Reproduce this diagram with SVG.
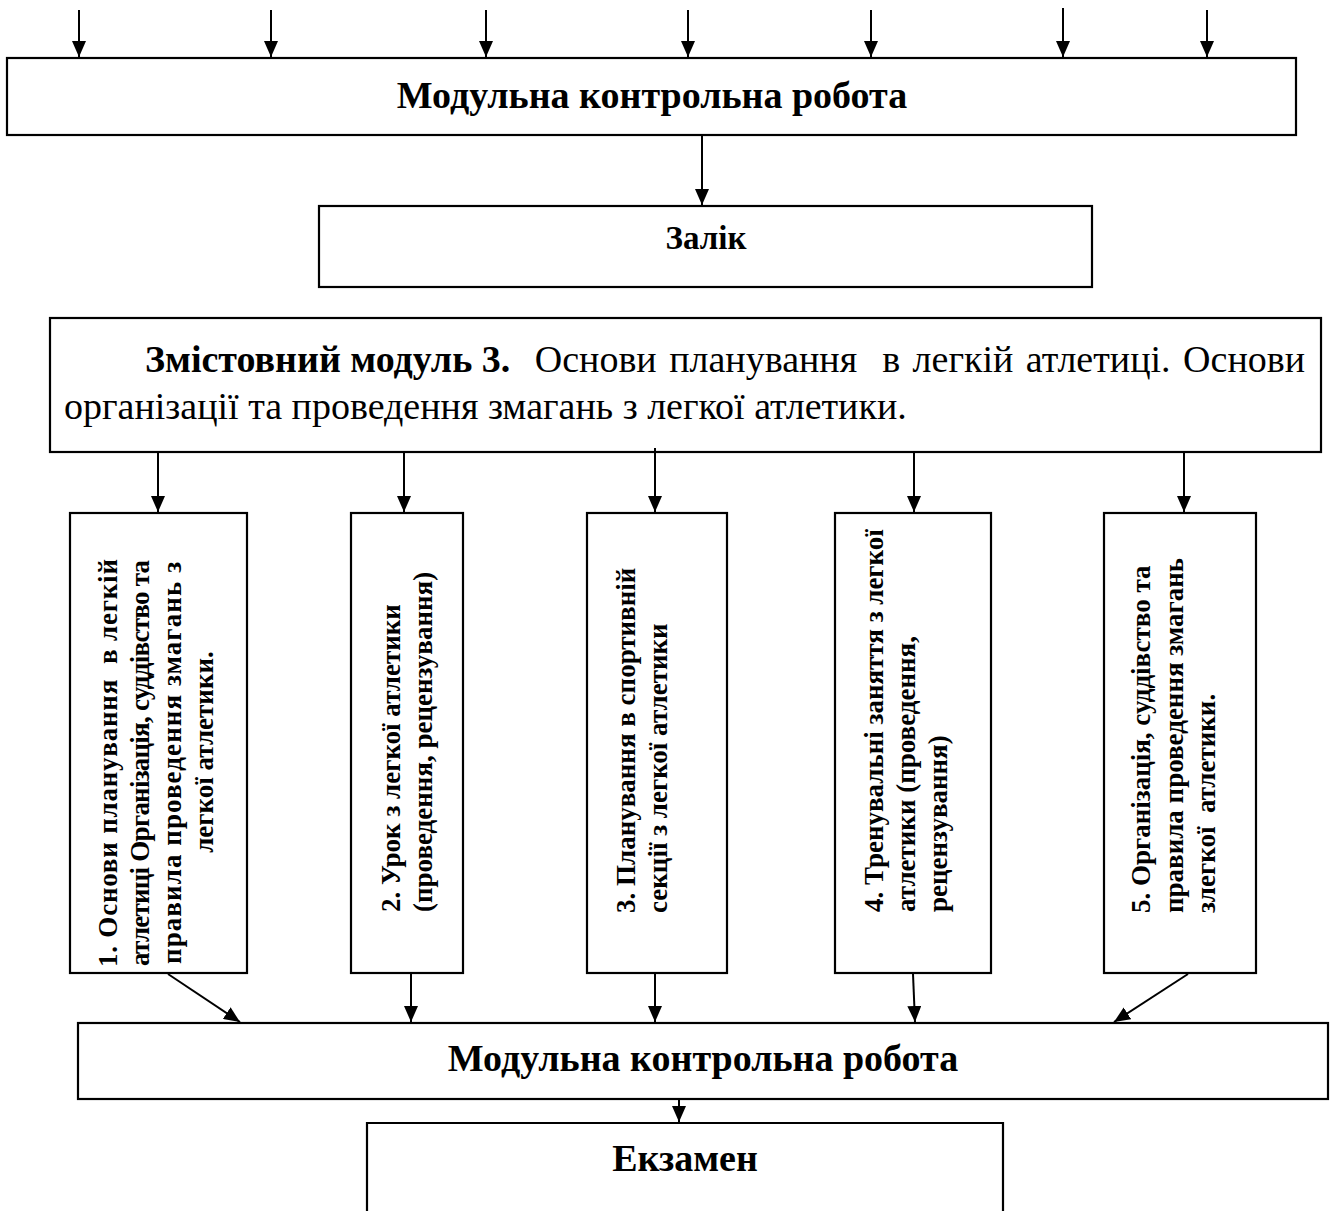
<svg xmlns="http://www.w3.org/2000/svg" width="1330" height="1211" viewBox="0 0 1330 1211">
<defs>
<marker id="ah" markerUnits="userSpaceOnUse" markerWidth="16" markerHeight="14" refX="16" refY="7" orient="auto">
<path d="M0,0 L16,7 L0,14 z" fill="#000"/>
</marker>
<style>
.box{fill:#fff;stroke:#000;stroke-width:2.2}
.con{stroke:#000;stroke-width:2;fill:none;marker-end:url(#ah)}
.t{font-family:"Liberation Serif","Times New Roman",serif;fill:#000}
.b{font-weight:bold}
.big{font-size:38px}
.vt{font-family:"Liberation Serif","Times New Roman",serif;font-size:27px;font-weight:bold;fill:#000}
</style>
</defs>
<rect x="0" y="0" width="1330" height="1211" fill="#fff"/>

<g id="mkr1">
<rect class="box" x="7" y="58" width="1289" height="77"/>
<text class="t b big" x="652" y="108" text-anchor="middle">Модульна контрольна робота</text>
</g>

<g id="zalik">
<rect class="box" x="319" y="206" width="773" height="81"/>
<text class="t b" font-size="33" x="706" y="249" text-anchor="middle">Залік</text>
</g>

<g id="module3">
<rect class="box" x="50" y="318" width="1271" height="134"/>
<text class="t big" y="372" xml:space="preserve"><tspan class="b" x="145">Змістовний модуль 3.</tspan></text>
<text class="t big" x="1305" y="372" text-anchor="end" xml:space="preserve" word-spacing="3">Основи планування  в легкій атлетиці. Основи</text>
<text class="t big" x="64" y="419">організації та проведення змагань з легкої атлетики.</text>
</g>

<g id="topic1">
<rect class="box" x="70" y="513" width="177" height="460"/>
<text class="vt" transform="translate(117,763) rotate(-90)" text-anchor="middle" xml:space="preserve" textLength="408" lengthAdjust="spacing">1. Основи планування  в легкій</text>
<text class="vt" transform="translate(149,763) rotate(-90)" text-anchor="middle" textLength="406" lengthAdjust="spacing">атлетиці Організація, суддівство та</text>
<text class="vt" transform="translate(181,763) rotate(-90)" text-anchor="middle" textLength="402" lengthAdjust="spacing">правила проведення змагань з</text>
<text class="vt" transform="translate(213,752) rotate(-90)" text-anchor="middle">легкої атлетики.</text>
</g>

<g id="topic2">
<rect class="box" x="351" y="513" width="112" height="460"/>
<text class="vt" transform="translate(400,912) rotate(-90)">2. Урок з легкої атлетики</text>
<text class="vt" transform="translate(432,912) rotate(-90)">(проведення, рецензування)</text>
</g>

<g id="topic3">
<rect class="box" x="587" y="513" width="140" height="460"/>
<text class="vt" transform="translate(635,913) rotate(-90)">3. Планування в спортивній</text>
<text class="vt" transform="translate(667,913) rotate(-90)">секції з легкої атлетики</text>
</g>

<g id="topic4">
<rect class="box" x="835" y="513" width="156" height="460"/>
<text class="vt" transform="translate(883,912) rotate(-90)">4. Тренувальні заняття з легкої</text>
<text class="vt" transform="translate(915,912) rotate(-90)">атлетики (проведення,</text>
<text class="vt" transform="translate(947,912) rotate(-90)">рецензування)</text>
</g>

<g id="topic5">
<rect class="box" x="1104" y="513" width="152" height="460"/>
<text class="vt" transform="translate(1150,913) rotate(-90)">5. Організація, суддівство та</text>
<text class="vt" transform="translate(1183,913) rotate(-90)">правила проведення змагань</text>
<text class="vt" transform="translate(1215,913) rotate(-90)" xml:space="preserve">злегкої  атлетики.</text>
</g>

<g id="mkr2">
<rect class="box" x="78" y="1023" width="1250" height="76"/>
<text class="t b big" x="703" y="1071" text-anchor="middle">Модульна контрольна робота</text>
</g>

<g id="exam">
<path class="box" d="M367,1215 V1123 H1003 V1215"/>
<text class="t b big" x="685" y="1171" text-anchor="middle">Екзамен</text>
</g>

<g id="connectors">
<line class="con" x1="79" y1="10" x2="79" y2="57"/>
<line class="con" x1="271" y1="10" x2="271" y2="57"/>
<line class="con" x1="486" y1="10" x2="486" y2="57"/>
<line class="con" x1="688" y1="10" x2="688" y2="57"/>
<line class="con" x1="871" y1="10" x2="871" y2="57"/>
<line class="con" x1="1063" y1="8" x2="1063" y2="57"/>
<line class="con" x1="1207" y1="10" x2="1207" y2="57"/>
<line class="con" x1="702" y1="135" x2="702" y2="205"/>
<line class="con" x1="158" y1="452" x2="158" y2="512"/>
<line class="con" x1="404" y1="452" x2="404" y2="512"/>
<line class="con" x1="655" y1="448" x2="655" y2="512"/>
<line class="con" x1="914" y1="452" x2="914" y2="512"/>
<line class="con" x1="1184" y1="452" x2="1184" y2="512"/>
<line class="con" x1="168" y1="974" x2="240" y2="1022"/>
<line class="con" x1="411" y1="974" x2="411" y2="1022"/>
<line class="con" x1="655" y1="974" x2="655" y2="1022"/>
<line class="con" x1="913" y1="974" x2="915" y2="1022"/>
<line class="con" x1="1188" y1="974" x2="1114" y2="1022"/>
<line class="con" x1="679" y1="1099" x2="679" y2="1122"/>
</g>
</svg>
